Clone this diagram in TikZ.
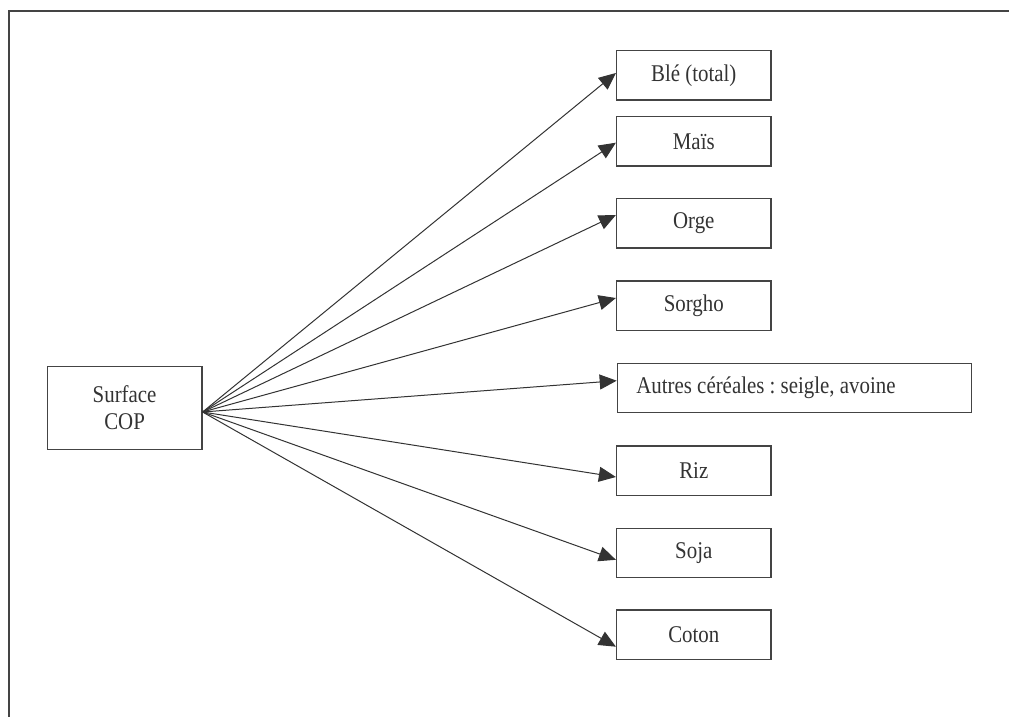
\documentclass[tikz,border=0pt]{standalone}
\usepackage{fontspec}
\setmainfont{Liberation Serif}[FakeStretch=0.87]
\usetikzlibrary{arrows.meta}
\definecolor{ink}{HTML}{333333}
\definecolor{edge}{HTML}{444444}
\tikzset{
  crop/.style={draw=edge, line width=1.3pt, text=ink, inner sep=0pt,
    minimum width=154.5pt, minimum height=49.3pt, align=center,
    font=\fontsize{24}{27}\selectfont\frenchspacing},
  link/.style={draw=ink, line width=1pt,
    -{Triangle[length=17pt,width=15pt]}}
}
\begin{document}
\begin{tikzpicture}[x=1pt,y=-1pt]
\useasboundingbox (0,0) rectangle (1009,717);
% page frame (top and left edges)
\draw[edge, line width=2pt, line join=miter] (9,717) -- (9,11) -- (1009,11);

% source box
\node[crop, minimum width=154.7pt, minimum height=82.6pt] (cop) at (124.6,408) {Surface\\COP};
\coordinate (hub) at ([yshift=-4pt]cop.east);

% crop boxes
\node[crop] (ble)    at (693.8,75.3)  {Blé (total)};
\node[crop] (mais)   at (693.8,141.3) {Maïs};
\node[crop] (orge)   at (693.8,223.3) {Orge};
\node[crop] (sorgho) at (693.8,305.7) {Sorgho};
\node[crop, anchor=west, text width=316pt, inner xsep=19pt, align=flush left] (autres) at (616.7,388) {Autres céréales : seigle, avoine};
\node[crop] (riz)    at (693.8,470.5) {Riz};
\node[crop] (soja)   at (693.8,552.8) {Soja};
\node[crop] (coton)  at (693.8,634.7) {Coton};

% arrow tips on the left edges
\coordinate (tble)    at ([yshift=2.3pt]ble.west);
\coordinate (tmais)   at ([yshift=-1.4pt]mais.west);
\coordinate (torge)   at ([yshift=8.3pt]orge.west);
\coordinate (tsorgho) at ([yshift=7.7pt]sorgho.west);
\coordinate (tautres) at ([yshift=7.3pt]autres.west);
\coordinate (triz)    at ([yshift=-6.5pt]riz.west);
\coordinate (tsoja)   at ([yshift=-7pt]soja.west);
\coordinate (tcoton)  at ([yshift=-12pt]coton.west);

\foreach \t in {tble,tmais,torge,tsorgho,tautres,triz,tsoja,tcoton}
  \draw[link] (hub) -- (\t);
\end{tikzpicture}
\end{document}
